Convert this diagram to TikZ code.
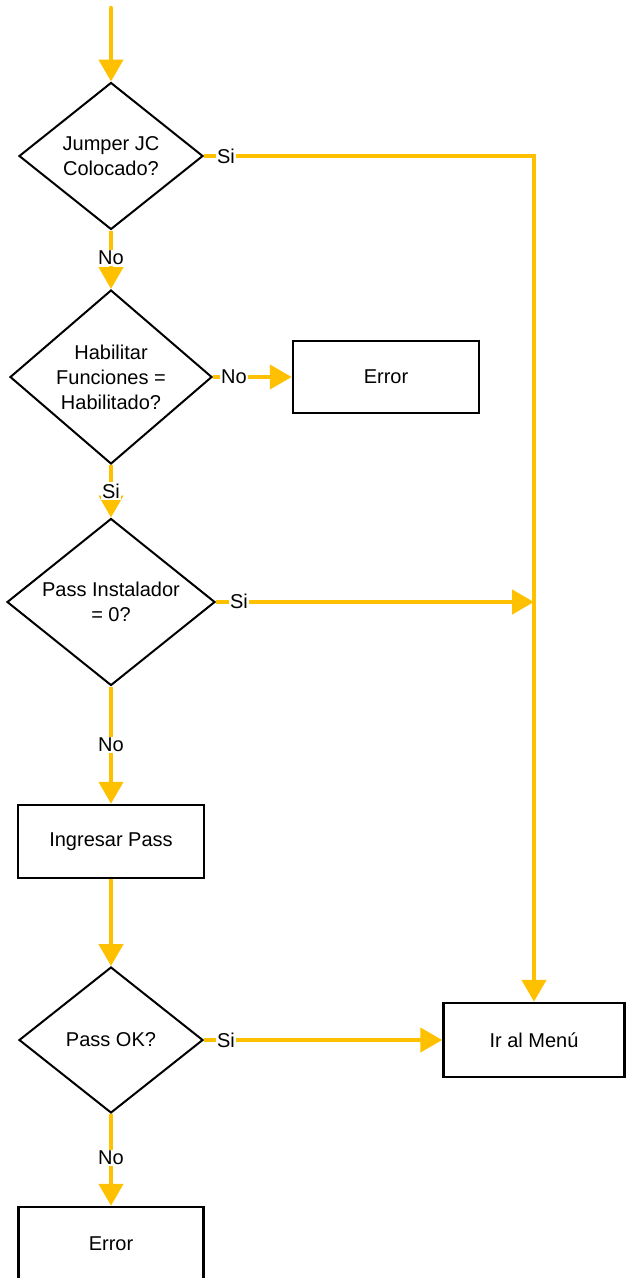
\documentclass[tikz,border=0pt]{standalone}
\usepackage{fontspec}
\setmainfont{Liberation Sans}
\usetikzlibrary{arrows.meta,shapes.geometric}
\definecolor{flow}{HTML}{FFC000}
\begin{document}
\begin{tikzpicture}[x=1pt,y=-1pt,
  every node/.style={font=\fontsize{20}{25}\selectfont, text=black},
  dia/.style={draw=black, line width=2pt, shape=diamond, inner sep=0pt, fill=white},
  box/.style={draw=black, line width=2.5pt, rectangle, inner sep=0pt, fill=white},
  conn/.style={draw=flow, line width=4.5pt, -{Triangle[length=22pt,width=24pt]}},
  lbl/.style={fill=white, inner sep=1.5pt},
  txt/.style={align=center}
]
\useasboundingbox (0,0) rectangle (625,1278);
\fill[white] (0,0) rectangle (625,1278);

% nodes
\coordinate (start) at (111,8);
\node[dia, minimum width=184pt, minimum height=147pt] (d1) at (111,156) {};
\node[txt] (t1) at (d1.center) {Jumper JC\\Colocado?};
\node[dia, minimum width=202pt, minimum height=174pt] (d2) at (111,377) {};
\node[txt] (t2) at (d2.center) {Habilitar\\Funciones =\\Habilitado?};
\node[box, minimum width=186pt, minimum height=72pt] (err1) at (386,377) {Error};
\node[dia, minimum width=208pt, minimum height=167pt] (d3) at (111,602) {};
\node[txt] (t3) at (d3.center) {Pass Instalador\\= 0?};
\node[box, minimum width=186pt, minimum height=73pt] (ing) at (111,841.5) {Ingresar Pass};
\node[dia, minimum width=184pt, minimum height=146pt] (d4) at (111,1040) {};
\node[txt] (t4) at (d4.center) {Pass OK?};
\node[box, minimum width=181pt, minimum height=74pt] (ir) at (534,1040) {Ir al Men\'u};
\node[box, minimum width=185pt, minimum height=73pt] (err2) at (111,1243.5) {Error};

% connectors
\draw[conn, line cap=round] (start) -- (d1.north);
\draw[conn] (d1.east) -| (ir.north);
\draw[conn] (d1.south) -- (d2.north);
\draw[conn] (d2.east) -- (err1.west);
\draw[conn] (d2.south) -- (d3.north);
\draw[conn] (d3.east) -- (d3.east -| ir.north);
\draw[conn] (d3.south) -- (ing.north);
\draw[conn] (ing.south) -- (d4.north);
\draw[conn] (d4.east) -- (ir.west);
\draw[conn] (d4.south) -- (err2.north);

% connector labels
\node[lbl] (l1) at (226,156) {Si};
\node[lbl] (l2) at (111,258) {No};
\node[lbl] (l3) at (234,377) {No};
\node[lbl] (l4) at (111,491) {Si};
\node[lbl] (l5) at (239,601) {Si};
\node[lbl] (l6) at (111,745) {No};
\node[lbl] (l7) at (226,1040) {Si};
\node[lbl] (l8) at (111,1158) {No};
\end{tikzpicture}
\end{document}
